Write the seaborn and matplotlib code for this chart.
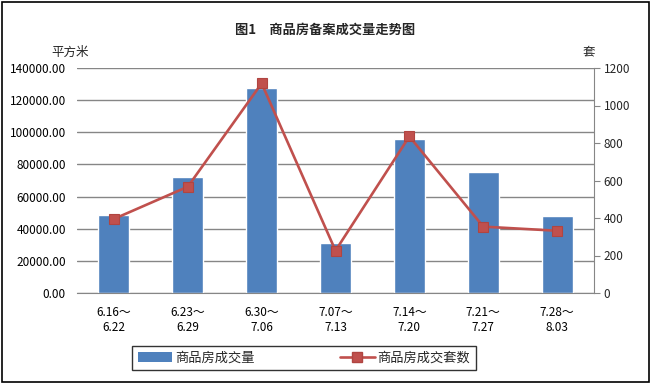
import numpy as np
import pandas as pd
import matplotlib
matplotlib.use('Agg')
import matplotlib.pyplot as plt
import seaborn as sns
from matplotlib.patches import Rectangle, Patch
from matplotlib.lines import Line2D

# Data
weeks = ['6.16～\n6.22', '6.23～\n6.29', '6.30～\n7.06', '7.07～\n7.13',
         '7.14～\n7.20', '7.21～\n7.27', '7.28～\n8.03']
area = [48500, 72300, 127700, 31100, 95800, 75300, 47900]
units = [395, 567, 1118, 226, 835, 354, 332]
left_ticks = [0, 20000, 40000, 60000, 80000, 100000, 120000, 140000]
right_ticks = [0, 200, 400, 600, 800, 1000, 1200]

BAR = '#4F81BD'
LINE = '#C0504D'
GRID = '#868686'

sns.set_style('white')
plt.rcParams['font.family'] = ['Noto Sans CJK SC', 'DejaVu Sans']

df = pd.DataFrame({'week': weeks, 'area': area, 'units': units,
                   'pos': np.arange(len(weeks))})

fig = plt.figure(figsize=(6.51, 3.84), dpi=100)
ax = fig.add_axes([77 / 651, 1 - 293 / 384, 517 / 651, 225 / 384])

sns.barplot(data=df, x='pos', y='area', color=BAR, width=0.42,
            saturation=1, ax=ax, zorder=2)
ax.set_ylim(0, 140000)
ax.set_xlim(-0.5, len(weeks) - 0.5)
ax.set_yticks(left_ticks)
ax.set_yticklabels([f'{v:.2f}' for v in left_ticks])
ax.yaxis.grid(True, color=GRID, linewidth=1)
ax.set_axisbelow(True)
ax.set_xticks(df['pos'])
ax.set_xticklabels(weeks, linespacing=1.25)
ax.tick_params(axis='both', length=0, labelsize=8.5, colors='black')
ax.tick_params(axis='y', pad=8)
ax.tick_params(axis='x', pad=9)
ax.set_xlabel('')
ax.set_ylabel('')
for s in ['top', 'left', 'right']:
    ax.spines[s].set_visible(False)
ax.spines['bottom'].set_color(GRID)

ax2 = ax.twinx()
sns.lineplot(data=df, x='pos', y='units', color=LINE, linewidth=1.9,
             marker='s', markersize=7.5, markeredgecolor='#B04541',
             markeredgewidth=0.8, ax=ax2, zorder=3)
ax2.set_ylim(0, 1200)
ax2.set_yticks(right_ticks)
ax2.set_ylabel('')
ax2.set_xlabel('')
for s in ['top', 'left', 'bottom']:
    ax2.spines[s].set_visible(False)
ax2.spines['right'].set_color(GRID)
ax2.tick_params(axis='y', length=4, color=GRID, labelsize=8.5, pad=3)

# Titles and units
fig.text(0.5, 1 - 30 / 384, '图1　商品房备案成交量走势图', ha='center',
         va='center', fontsize=9.5, fontweight='bold')
fig.text(70 / 651, 1 - 52 / 384, '平方米', ha='center', va='center',
         fontsize=9)
fig.text(589 / 651, 1 - 52 / 384, '套', ha='center', va='center',
         fontsize=9)

# Legend
handles = [Patch(facecolor=BAR, edgecolor='none'),
           Line2D([0], [0], color=LINE, linewidth=1.9, marker='s',
                  markersize=7, markeredgecolor='#B04541')]
leg = fig.legend(handles, ['商品房成交量', '商品房成交套数'], ncol=2,
                 loc='center', bbox_to_anchor=(304 / 651, 1 - 358 / 384),
                 frameon=True, fancybox=False, fontsize=9.5,
                 handlelength=2.6, handleheight=0.7, columnspacing=6.5,
                 borderpad=0.45, borderaxespad=0, handletextpad=0.2)
leg.get_frame().set_edgecolor('black')
leg.get_frame().set_linewidth(1)

# Outer border
fig.patches.append(Rectangle((2 / 651, 2 / 384), 647 / 651, 380 / 384,
                             transform=fig.transFigure, fill=False,
                             edgecolor='black', linewidth=1.2))

fig.savefig('out.png', dpi=100)
